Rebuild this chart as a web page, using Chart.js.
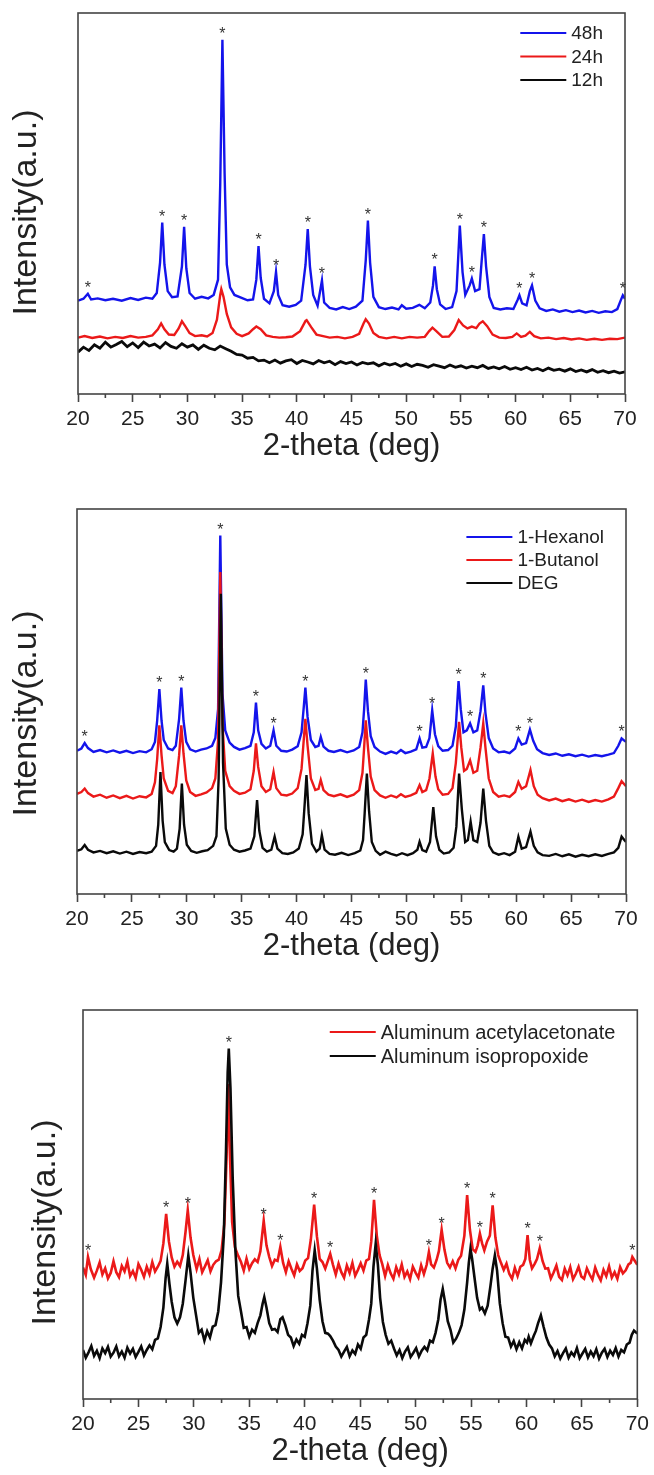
<!DOCTYPE html>
<html>
<head>
<meta charset="utf-8">
<script src="https://cdn.jsdelivr.net/npm/chart.js@4.4.1/dist/chart.umd.min.js"></script>
<style>
  html, body { margin: 0; padding: 0; background: #fff; }
  body { width: 654px; height: 1475px; position: relative; overflow: hidden; }
  canvas { position: absolute; left: 0; }
</style>
</head>
<body>
<canvas id="c1" width="654" height="475" style="top:0px"></canvas>
<canvas id="c2" width="654" height="490" style="top:475px"></canvas>
<canvas id="c3" width="654" height="510" style="top:965px"></canvas>
<script>
// 2-theta axis
const thetaTicks = [20, 25, 30, 35, 40, 45, 50, 55, 60, 65, 70];
const thetaMinor = [22.5, 27.5, 32.5, 37.5, 42.5, 47.5, 52.5, 57.5, 62.5, 67.5];

// reaction time series, [2theta, intensity]
const xrd48h = [[20.0,24.5],[20.5,25.0],[20.9,26.3],[21.2,24.8],[21.8,25.1],[22.5,24.6],[23.2,25.0],[24.0,24.5],[24.8,25.2],[25.5,24.7],[26.2,25.3],[26.8,25.0],[27.2,26.5],[27.5,34.5],[27.7,45.0],[27.9,34.0],[28.2,27.0],[28.6,25.4],[29.1,25.6],[29.5,33.5],[29.7,43.9],[29.9,33.0],[30.2,26.5],[30.7,25.0],[31.3,25.5],[31.9,25.1],[32.4,26.0],[32.8,30.0],[33.0,55.0],[33.2,93.0],[33.4,58.0],[33.6,34.0],[33.9,28.0],[34.3,26.0],[34.9,25.3],[35.5,24.6],[36.0,24.8],[36.3,30.0],[36.5,38.8],[36.7,30.5],[37.0,25.0],[37.5,23.8],[37.9,27.0],[38.1,32.0],[38.3,26.0],[38.7,23.3],[39.3,22.9],[39.9,23.4],[40.4,24.5],[40.8,34.0],[41.0,43.3],[41.2,33.5],[41.5,26.0],[41.9,23.2],[42.3,29.8],[42.5,24.0],[43.0,22.6],[43.6,22.2],[44.2,22.8],[44.8,22.3],[45.4,22.9],[46.0,24.5],[46.3,35.0],[46.5,45.5],[46.7,34.5],[47.0,25.5],[47.5,22.8],[48.1,22.3],[48.7,22.7],[49.3,22.2],[49.6,23.3],[50.0,22.4],[50.6,22.6],[51.2,23.4],[51.7,22.5],[52.2,24.0],[52.45,28.5],[52.6,33.5],[52.8,27.5],[53.1,23.5],[53.6,22.3],[54.2,22.8],[54.6,27.0],[54.9,44.2],[55.15,32.0],[55.4,26.0],[55.8,28.5],[56.0,30.3],[56.3,27.0],[56.7,27.5],[56.9,35.0],[57.1,42.0],[57.3,33.5],[57.6,25.5],[58.0,22.6],[58.6,22.2],[59.2,22.5],[59.8,22.3],[60.2,24.8],[60.35,25.9],[60.6,23.8],[61.0,23.3],[61.3,27.0],[61.5,28.5],[61.8,24.5],[62.2,22.5],[62.8,21.8],[63.4,22.2],[64.0,21.6],[64.6,22.0],[65.2,21.5],[65.8,21.9],[66.4,21.4],[67.0,21.8],[67.6,21.3],[68.2,21.7],[68.8,21.5],[69.3,22.3],[69.6,24.5],[69.8,25.9],[70.0,25.0]];
const xrd24h = [[20.0,14.8],[20.6,15.2],[21.3,14.7],[22.0,15.1],[22.7,14.6],[23.4,15.0],[24.1,14.7],[24.8,15.2],[25.5,14.8],[26.2,15.0],[26.8,15.4],[27.3,17.0],[27.6,18.5],[27.9,17.0],[28.3,15.6],[28.8,15.5],[29.2,17.2],[29.5,19.1],[29.8,17.8],[30.2,16.0],[30.7,15.2],[31.3,15.4],[31.8,15.1],[32.3,16.0],[32.7,19.5],[33.0,26.0],[33.1,27.5],[33.3,25.5],[33.6,21.0],[34.0,17.5],[34.5,15.8],[35.0,15.2],[35.6,15.9],[36.0,17.0],[36.3,17.7],[36.7,17.0],[37.2,15.4],[37.8,15.0],[38.4,14.8],[39.0,14.9],[39.6,15.1],[40.3,16.5],[40.8,19.2],[40.9,19.4],[41.3,17.6],[41.8,15.6],[42.4,15.2],[43.0,14.8],[43.7,15.0],[44.4,14.6],[45.1,15.0],[45.7,15.8],[46.1,18.5],[46.3,19.6],[46.6,18.5],[47.0,16.0],[47.5,15.0],[48.2,14.6],[48.9,15.0],[49.6,14.6],[50.3,15.0],[51.0,14.8],[51.7,15.0],[52.1,16.5],[52.4,17.4],[52.8,16.4],[53.3,15.0],[53.9,15.1],[54.4,16.8],[54.8,19.4],[55.2,18.0],[55.6,17.2],[56.0,17.7],[56.4,17.3],[56.7,18.5],[57.0,19.1],[57.4,17.8],[57.9,15.6],[58.5,14.8],[59.1,14.7],[59.7,15.0],[60.1,15.9],[60.5,15.0],[60.9,15.3],[61.3,16.3],[61.7,15.2],[62.3,14.6],[63.0,14.8],[63.7,14.4],[64.4,14.7],[65.1,14.3],[65.8,14.6],[66.5,14.2],[67.2,14.5],[67.9,14.2],[68.6,14.5],[69.3,14.4],[70.0,14.8]];
const xrd12h = [[20.0,11.0],[20.5,12.3],[21.0,11.4],[21.5,12.9],[22.0,12.0],[22.5,13.6],[23.0,12.3],[23.5,13.0],[24.0,13.8],[24.5,12.4],[25.0,13.4],[25.5,12.2],[26.0,13.6],[26.5,12.6],[27.0,13.1],[27.5,12.1],[28.0,13.5],[28.5,12.5],[29.0,12.0],[29.5,13.2],[30.0,12.3],[30.5,12.9],[31.0,11.7],[31.5,12.8],[32.0,12.0],[32.5,11.6],[33.0,12.6],[33.5,11.9],[34.0,11.2],[34.5,10.4],[35.0,10.2],[35.5,9.4],[36.0,9.6],[36.5,8.7],[37.0,8.9],[37.5,8.2],[38.0,8.9],[38.5,8.1],[39.0,8.7],[39.5,9.0],[40.0,8.0],[40.5,8.8],[41.0,8.4],[41.5,7.9],[42.0,8.8],[42.5,8.2],[43.0,8.6],[43.5,7.7],[44.0,8.5],[44.5,8.0],[45.0,8.4],[45.5,7.6],[46.0,8.3],[46.5,7.9],[47.0,8.2],[47.5,7.4],[48.0,8.1],[48.5,7.6],[49.0,8.0],[49.5,7.3],[50.0,7.9],[50.5,7.2],[51.0,7.8],[51.5,7.5],[52.0,7.0],[52.5,7.7],[53.0,7.3],[53.5,6.9],[54.0,7.6],[54.5,7.0],[55.0,7.4],[55.5,6.8],[56.0,7.3],[56.5,6.9],[57.0,7.5],[57.5,6.7],[58.0,7.1],[58.5,6.6],[59.0,7.2],[59.5,6.5],[60.0,6.9],[60.5,6.4],[61.0,7.0],[61.5,6.3],[62.0,6.7],[62.5,6.1],[63.0,6.8],[63.5,6.2],[64.0,6.5],[64.5,6.0],[65.0,6.6],[65.5,5.9],[66.0,6.3],[66.5,5.8],[67.0,6.4],[67.5,5.7],[68.0,6.1],[68.5,5.6],[69.0,6.0],[69.5,5.5],[70.0,5.8]];

// solvent series
const xrdHexanol = [[20.0,37.2],[20.4,37.8],[20.7,39.2],[21.0,37.9],[21.5,36.9],[22.1,37.4],[22.7,36.8],[23.3,37.3],[23.9,36.7],[24.5,37.2],[25.1,36.6],[25.7,37.1],[26.3,36.8],[26.8,37.6],[27.1,39.5],[27.3,45.0],[27.5,53.2],[27.7,45.0],[27.9,40.0],[28.3,37.8],[28.7,37.4],[29.0,38.5],[29.3,45.5],[29.5,53.6],[29.7,45.0],[29.95,39.5],[30.3,37.6],[30.8,37.0],[31.3,37.5],[31.8,37.8],[32.3,38.5],[32.6,40.5],[32.85,48.0],[33.05,93.1],[33.25,52.0],[33.5,42.5],[33.9,39.3],[34.3,38.2],[34.8,37.5],[35.3,37.9],[35.8,38.5],[36.1,42.0],[36.3,49.7],[36.5,42.5],[36.8,39.0],[37.2,37.8],[37.6,38.5],[37.9,42.5],[38.15,38.5],[38.6,37.2],[39.1,37.0],[39.6,37.5],[40.1,38.4],[40.45,42.0],[40.65,48.5],[40.8,53.6],[41.0,46.0],[41.3,40.0],[41.7,38.2],[42.0,38.5],[42.2,40.8],[42.45,38.3],[42.9,37.2],[43.4,36.9],[44.0,37.4],[44.6,36.8],[45.2,37.3],[45.7,38.2],[46.0,42.0],[46.15,48.0],[46.3,55.7],[46.5,47.5],[46.75,41.0],[47.1,38.2],[47.6,37.0],[48.1,36.4],[48.6,37.0],[49.1,36.5],[49.5,37.4],[49.9,36.6],[50.4,37.0],[50.9,37.6],[51.2,40.4],[51.45,38.0],[51.8,38.2],[52.1,40.5],[52.35,47.7],[52.6,41.5],[52.9,38.4],[53.3,37.2],[53.8,37.4],[54.2,38.5],[54.5,43.5],[54.75,55.3],[54.95,48.0],[55.2,42.0],[55.5,42.5],[55.8,44.3],[56.1,42.0],[56.45,42.5],[56.75,47.5],[57.0,54.2],[57.2,47.0],[57.5,40.5],[57.9,37.8],[58.4,36.8],[58.9,37.0],[59.4,36.6],[59.9,37.8],[60.2,40.4],[60.5,38.8],[60.9,39.2],[61.25,42.7],[61.55,39.8],[61.9,37.6],[62.4,36.6],[63.0,36.1],[63.6,36.5],[64.2,35.9],[64.8,36.3],[65.4,35.8],[66.0,36.2],[66.6,35.7],[67.2,36.1],[67.8,35.8],[68.4,36.2],[68.9,36.6],[69.3,38.5],[69.6,40.4],[70.0,39.5]];
const xrdButanol = [[20.0,26.0],[20.4,26.5],[20.7,27.4],[21.0,26.2],[21.5,25.3],[22.1,25.8],[22.7,25.0],[23.3,25.6],[23.9,24.9],[24.5,25.5],[25.1,24.8],[25.7,25.4],[26.3,25.1],[26.8,26.0],[27.1,29.0],[27.3,35.0],[27.5,43.8],[27.7,36.0],[27.9,30.0],[28.3,26.8],[28.7,26.2],[29.0,28.0],[29.3,36.0],[29.5,43.8],[29.7,36.5],[29.95,29.5],[30.3,26.5],[30.8,25.5],[31.3,25.9],[31.8,26.4],[32.3,27.5],[32.6,30.0],[32.85,40.0],[33.05,83.6],[33.25,44.0],[33.5,32.0],[33.9,28.0],[34.3,26.8],[34.8,26.0],[35.3,26.3],[35.8,27.2],[36.1,32.0],[36.3,39.1],[36.5,33.0],[36.8,28.0],[37.2,26.5],[37.6,27.2],[37.9,31.7],[38.15,27.5],[38.6,25.8],[39.1,25.6],[39.6,26.1],[40.1,27.5],[40.45,32.5],[40.65,40.0],[40.8,45.5],[41.0,38.5],[41.3,30.0],[41.7,27.0],[42.0,27.3],[42.2,29.6],[42.45,27.0],[42.9,25.8],[43.4,25.4],[44.0,25.9],[44.6,25.2],[45.2,25.8],[45.7,27.0],[46.0,31.5],[46.15,38.0],[46.3,45.1],[46.5,38.0],[46.75,30.5],[47.1,27.0],[47.6,25.6],[48.1,25.0],[48.6,25.6],[49.1,25.1],[49.5,25.9],[49.9,25.2],[50.4,25.6],[50.9,26.3],[51.2,28.3],[51.45,26.5],[51.8,27.0],[52.1,30.0],[52.4,36.5],[52.65,30.5],[52.9,27.2],[53.3,25.8],[53.8,26.0],[54.2,27.5],[54.5,34.0],[54.8,44.7],[55.0,38.0],[55.25,32.0],[55.5,32.5],[55.8,34.7],[56.1,31.5],[56.45,32.0],[56.75,38.0],[57.0,44.3],[57.2,38.0],[57.5,30.0],[57.9,26.5],[58.4,25.3],[58.9,25.6],[59.4,25.2],[59.9,26.5],[60.2,29.1],[60.5,27.3],[60.9,28.0],[61.3,32.2],[61.6,28.0],[61.95,25.8],[62.4,24.9],[63.0,24.3],[63.6,24.8],[64.2,24.1],[64.8,24.6],[65.4,24.0],[66.0,24.5],[66.6,23.9],[67.2,24.4],[67.8,24.0],[68.4,24.6],[68.9,25.3],[69.3,27.5],[69.6,29.3],[70.0,28.0]];
const xrdDEG = [[20.0,11.2],[20.4,11.6],[20.7,12.7],[21.0,11.5],[21.5,10.8],[22.1,11.2],[22.7,10.6],[23.3,11.1],[23.9,10.5],[24.5,11.0],[25.1,10.4],[25.7,10.9],[26.3,10.6],[26.8,11.0],[27.2,12.5],[27.4,18.0],[27.6,31.7],[27.8,19.0],[28.0,13.5],[28.4,11.4],[28.8,11.0],[29.1,11.8],[29.35,17.0],[29.55,28.7],[29.75,18.0],[30.0,12.8],[30.4,11.2],[30.9,10.7],[31.4,11.1],[31.9,11.4],[32.4,12.5],[32.7,15.0],[32.9,30.0],[33.1,78.0],[33.3,34.0],[33.55,17.0],[33.9,12.8],[34.3,11.5],[34.8,11.0],[35.3,11.3],[35.8,11.8],[36.15,15.0],[36.4,24.4],[36.6,16.5],[36.9,12.0],[37.3,11.0],[37.7,11.5],[38.0,14.9],[38.25,11.8],[38.7,10.6],[39.2,10.4],[39.7,10.8],[40.2,11.8],[40.55,15.5],[40.75,24.0],[40.9,30.9],[41.1,21.0],[41.4,13.0],[41.8,11.0],[42.1,11.8],[42.3,15.3],[42.55,11.5],[43.0,10.4],[43.5,10.2],[44.1,10.7],[44.7,10.1],[45.3,10.6],[45.8,11.3],[46.05,14.0],[46.2,21.0],[46.4,31.3],[46.6,21.5],[46.85,13.5],[47.2,11.2],[47.6,10.2],[48.1,11.0],[48.6,10.4],[49.1,10.0],[49.6,10.6],[50.1,10.1],[50.6,10.6],[51.0,11.5],[51.2,13.6],[51.45,11.4],[51.8,11.0],[52.15,13.5],[52.45,22.6],[52.7,15.0],[53.0,11.5],[53.4,10.5],[53.9,10.8],[54.3,12.0],[54.55,17.5],[54.8,31.3],[55.05,22.0],[55.35,13.5],[55.6,14.0],[55.85,18.8],[56.1,14.0],[56.45,13.5],[56.75,18.5],[57.0,27.4],[57.25,19.0],[57.55,12.5],[57.9,10.8],[58.4,10.2],[58.9,10.6],[59.4,10.1],[59.9,11.0],[60.2,14.9],[60.5,11.8],[60.9,12.2],[61.3,16.2],[61.6,12.5],[61.95,10.8],[62.4,10.1],[63.0,9.9],[63.6,10.4],[64.2,9.8],[64.8,10.3],[65.4,9.7],[66.0,10.2],[66.6,9.8],[67.2,10.3],[67.8,9.9],[68.4,10.4],[68.9,10.8],[69.3,12.0],[69.6,14.9],[70.0,13.5]];

// aluminium precursor series
const xrdAcac = [[20.0,33.8],[20.25,31.9],[20.45,36.5],[20.7,33.4],[21.0,31.2],[21.25,33.0],[21.5,35.1],[21.75,32.0],[22.0,33.6],[22.25,31.0],[22.5,32.4],[22.75,35.4],[23.0,32.6],[23.25,31.3],[23.5,34.2],[23.75,32.8],[24.0,35.3],[24.25,31.6],[24.5,32.9],[24.75,31.1],[25.0,34.7],[25.25,33.2],[25.5,31.4],[25.75,34.0],[26.0,32.1],[26.25,35.2],[26.5,32.8],[26.75,34.0],[27.0,35.5],[27.25,40.0],[27.5,47.6],[27.75,40.5],[28.0,36.4],[28.25,34.0],[28.5,35.3],[28.75,34.2],[29.0,37.0],[29.25,43.0],[29.45,48.5],[29.7,41.5],[29.95,37.0],[30.25,33.4],[30.5,36.0],[30.75,32.6],[31.0,34.1],[31.25,35.7],[31.5,32.8],[31.75,34.5],[32.0,35.4],[32.25,35.8],[32.5,38.3],[32.75,45.0],[32.95,62.0],[33.1,81.0],[33.25,63.0],[33.45,45.5],[33.7,39.0],[34.0,36.8],[34.25,35.2],[34.5,33.0],[34.75,36.1],[35.0,33.4],[35.25,34.9],[35.5,35.9],[35.75,35.2],[36.0,38.0],[36.3,45.8],[36.55,39.5],[36.8,36.5],[37.05,34.2],[37.3,35.8],[37.55,35.5],[37.8,39.1],[38.05,35.0],[38.3,32.6],[38.55,35.4],[38.8,33.5],[39.05,31.8],[39.3,34.6],[39.55,32.9],[39.8,33.6],[40.05,35.6],[40.3,36.2],[40.55,41.0],[40.85,50.0],[41.1,41.8],[41.35,36.0],[41.6,35.2],[41.85,33.5],[42.05,35.2],[42.3,37.3],[42.55,34.5],[42.8,32.0],[43.05,34.8],[43.3,32.6],[43.55,31.2],[43.8,34.3],[44.05,32.4],[44.3,35.0],[44.55,31.7],[44.8,33.2],[45.05,34.9],[45.3,33.0],[45.55,35.6],[45.8,36.0],[46.0,40.5],[46.25,51.2],[46.5,42.0],[46.75,37.0],[47.0,34.6],[47.25,31.6],[47.5,34.4],[47.75,32.3],[48.0,30.9],[48.25,33.9],[48.5,32.0],[48.75,34.6],[49.0,31.4],[49.25,32.8],[49.5,30.8],[49.75,34.0],[50.0,32.5],[50.25,31.2],[50.5,34.4],[50.75,32.1],[51.0,34.5],[51.2,37.8],[51.4,34.6],[51.65,33.8],[51.9,35.8],[52.1,38.0],[52.35,43.5],[52.6,38.4],[52.85,35.0],[53.1,33.8],[53.35,35.4],[53.6,33.6],[53.85,35.8],[54.1,36.8],[54.4,42.0],[54.65,52.4],[54.9,43.5],[55.15,38.5],[55.4,37.8],[55.6,39.5],[55.8,42.5],[56.0,40.0],[56.2,38.2],[56.45,40.5],[56.7,42.0],[56.95,49.8],[57.2,41.5],[57.45,37.0],[57.7,35.0],[57.95,33.2],[58.2,34.8],[58.45,32.2],[58.7,30.9],[58.95,33.7],[59.2,31.6],[59.45,34.0],[59.7,34.5],[59.9,36.0],[60.1,42.1],[60.3,35.8],[60.5,33.6],[60.75,34.8],[60.95,36.0],[61.2,38.8],[61.45,35.5],[61.7,33.5],[61.95,33.6],[62.2,31.0],[62.45,32.5],[62.7,34.3],[62.95,31.4],[63.2,30.6],[63.45,33.5],[63.7,31.8],[63.95,33.9],[64.2,30.8],[64.45,32.2],[64.7,34.0],[64.95,31.5],[65.2,30.9],[65.45,33.6],[65.7,32.0],[65.95,30.7],[66.2,33.8],[66.45,31.9],[66.7,30.5],[66.95,33.2],[67.2,31.6],[67.45,34.1],[67.7,31.2],[67.95,32.6],[68.2,30.9],[68.45,33.9],[68.7,32.3],[68.95,33.1],[69.2,34.6],[69.4,35.0],[69.55,36.5],[69.75,35.6],[70.0,34.5]];
const xrdIsoprop = [[20.0,12.6],[20.25,10.6],[20.5,12.0],[20.75,13.6],[21.0,11.1],[21.25,12.4],[21.5,10.5],[21.75,13.0],[22.0,11.8],[22.25,13.4],[22.5,10.9],[22.75,11.9],[23.0,13.5],[23.25,11.0],[23.5,12.2],[23.75,10.6],[24.0,13.2],[24.25,11.7],[24.5,12.9],[24.75,10.8],[25.0,12.1],[25.25,13.5],[25.5,11.2],[25.75,12.6],[26.0,13.8],[26.25,12.8],[26.5,15.2],[26.75,15.6],[27.0,18.5],[27.25,23.5],[27.45,31.0],[27.6,34.8],[27.8,29.5],[28.0,25.0],[28.25,21.0],[28.5,19.4],[28.75,21.0],[29.0,24.5],[29.25,30.5],[29.5,36.9],[29.7,32.5],[29.95,26.0],[30.2,21.5],[30.45,17.0],[30.7,17.8],[30.95,15.0],[31.2,17.4],[31.45,15.8],[31.7,18.6],[31.95,19.0],[32.2,22.5],[32.45,30.0],[32.7,42.0],[32.9,64.0],[33.05,84.0],[33.15,90.1],[33.3,80.0],[33.5,57.0],[33.75,38.0],[34.0,26.5],[34.25,22.5],[34.5,18.3],[34.75,18.5],[35.0,16.0],[35.25,17.8],[35.5,17.0],[35.75,19.5],[36.0,21.5],[36.2,24.5],[36.35,26.2],[36.55,23.5],[36.8,19.5],[37.05,17.8],[37.3,18.0],[37.55,17.2],[37.8,20.5],[38.0,21.0],[38.25,19.0],[38.5,16.5],[38.75,15.8],[39.0,13.6],[39.25,15.3],[39.5,14.2],[39.75,16.5],[40.0,16.0],[40.25,19.5],[40.5,24.0],[40.7,33.0],[40.9,38.2],[41.1,33.5],[41.35,25.5],[41.6,20.0],[41.85,17.0],[42.1,16.8],[42.3,16.2],[42.55,15.0],[42.8,13.5],[43.05,12.6],[43.3,10.9],[43.55,12.2],[43.8,13.4],[44.05,11.0],[44.3,12.5],[44.55,11.6],[44.8,14.0],[45.05,12.9],[45.3,15.8],[45.55,16.5],[45.8,20.5],[46.0,24.5],[46.2,34.0],[46.4,39.9],[46.6,34.5],[46.8,26.0],[47.05,19.8],[47.3,16.5],[47.55,14.2],[47.8,15.0],[48.05,13.0],[48.3,11.2],[48.55,12.6],[48.8,10.5],[49.05,12.2],[49.3,13.3],[49.55,10.8],[49.8,11.9],[50.05,13.1],[50.3,10.9],[50.55,12.4],[50.8,13.4],[51.05,12.5],[51.3,15.0],[51.55,14.6],[51.8,17.0],[52.05,20.5],[52.25,25.5],[52.45,28.3],[52.65,25.0],[52.9,20.0],[53.15,17.8],[53.4,14.5],[53.65,15.5],[53.9,17.0],[54.15,19.0],[54.4,23.0],[54.65,30.0],[54.8,35.0],[54.95,38.6],[55.1,36.0],[55.3,31.5],[55.55,26.0],[55.8,23.0],[56.0,23.5],[56.25,22.0],[56.5,24.0],[56.75,29.0],[56.95,33.5],[57.15,36.9],[57.35,33.0],[57.6,24.5],[57.85,19.5],[58.1,16.0],[58.35,15.8],[58.6,13.5],[58.85,14.9],[59.1,12.8],[59.35,14.6],[59.6,13.0],[59.85,15.2],[60.05,14.5],[60.2,16.0],[60.4,14.3],[60.65,16.2],[60.85,17.5],[61.05,19.5],[61.3,21.5],[61.55,18.5],[61.8,15.8],[62.05,14.0],[62.3,13.0],[62.55,11.0],[62.8,12.3],[63.05,10.4],[63.3,11.8],[63.55,13.0],[63.8,10.6],[64.05,12.0],[64.3,11.1],[64.55,13.1],[64.8,10.5],[65.05,11.7],[65.3,12.9],[65.55,10.7],[65.8,12.2],[66.05,11.0],[66.3,12.8],[66.55,10.4],[66.8,11.9],[67.05,12.9],[67.3,10.8],[67.55,12.4],[67.8,11.3],[68.05,13.1],[68.3,10.9],[68.55,12.6],[68.8,12.0],[69.05,14.0],[69.3,14.5],[69.5,16.5],[69.7,17.6],[70.0,16.8]];

// marked reflections (2theta) for each panel
const peaksTime = [20.9, 27.7, 29.7, 33.2, 36.5, 38.1, 41.0, 42.3, 46.5, 52.6, 54.9, 56.0, 57.1, 60.35, 61.5, 69.8];
const peaksSolvent = [20.7, 27.5, 29.5, 33.05, 36.3, 37.9, 40.8, 46.3, 51.2, 52.35, 54.75, 55.8, 57.0, 60.2, 61.25, 69.6];
const peaksPrecursor = [20.45, 27.5, 29.45, 33.15, 36.3, 37.8, 40.85, 42.3, 46.25, 51.2, 52.35, 54.65, 55.8, 56.95, 60.1, 61.2, 69.55];

const FONT = '"Liberation Sans", Arial, Helvetica, sans-serif';
const BLUE = 'rgb(20,20,235)';
const RED = 'rgb(235,25,25)';
const BLACK = 'rgb(10,10,10)';
const INK = '#222';

// frame, minor ticks, peak marks, legend and y title
const xrdFrame = {
  id: 'xrdFrame',
  afterDatasetsDraw(chart, args, opts) {
    const { ctx, chartArea: a, scales: { x, y } } = chart;
    ctx.save();

    ctx.strokeStyle = '#444';
    ctx.lineWidth = 1.6;
    ctx.strokeRect(a.left, a.top, a.right - a.left, a.bottom - a.top);
    ctx.beginPath();
    thetaMinor.forEach(v => {
      const px = x.getPixelForValue(v);
      ctx.moveTo(px, a.bottom);
      ctx.lineTo(px, a.bottom + 4);
    });
    ctx.stroke();

    ctx.fillStyle = '#333';
    ctx.font = '16px ' + FONT;
    ctx.textAlign = 'center';
    ctx.textBaseline = 'alphabetic';
    opts.stars.forEach(sx => {
      let top = -Infinity;
      chart.data.datasets.forEach(ds => ds.data.forEach(p => {
        if (Math.abs(p[0] - sx) < 0.12 && p[1] > top) top = p[1];
      }));
      ctx.fillText('*', x.getPixelForValue(sx), y.getPixelForValue(top) - 1);
    });

    const lg = opts.legend;
    ctx.font = lg.size + 'px ' + FONT;
    const sets = chart.data.datasets;
    const tw = Math.max(...sets.map(d => ctx.measureText(d.label).width));
    const tx = a.right - 22 - tw;
    sets.forEach((d, i) => {
      const ly = a.top + lg.top + i * lg.step;
      ctx.strokeStyle = d.borderColor;
      ctx.lineWidth = 2;
      ctx.beginPath();
      ctx.moveTo(tx - 51, ly);
      ctx.lineTo(tx - 5, ly);
      ctx.stroke();
      ctx.fillStyle = INK;
      ctx.textAlign = 'left';
      ctx.textBaseline = 'middle';
      ctx.fillText(d.label, tx, ly + 1);
    });

    ctx.translate(opts.yTitle.x, (a.top + a.bottom) / 2 + opts.yTitle.dy);
    ctx.rotate(-Math.PI / 2);
    ctx.font = '34px ' + FONT;
    ctx.fillStyle = INK;
    ctx.textAlign = 'center';
    ctx.textBaseline = 'middle';
    ctx.fillText('Intensity(a.u.)', 0, 0);
    ctx.restore();
  }
};

function xrdChart(id, series, stars, box) {
  const n = series.length;
  return new Chart(document.getElementById(id), {
    type: 'line',
    data: {
      datasets: series.map((s, i) => ({
        label: s.label,
        data: s.data,
        borderColor: s.color,
        borderWidth: s.width || box.lw,
        pointRadius: 0,
        tension: 0,
        fill: false,
        order: n - 1 - i
      }))
    },
    options: {
      responsive: false,
      animation: false,
      devicePixelRatio: 1,
      layout: { padding: { left: box.left, right: box.right, top: box.top, bottom: 0 } },
      plugins: {
        legend: { display: false },
        tooltip: { enabled: false },
        xrdFrame: { stars: stars, legend: box.legend, yTitle: box.yTitle }
      },
      scales: {
        x: {
          type: 'linear',
          min: 20,
          max: 70,
          afterBuildTicks: s => { s.ticks = thetaTicks.map(v => ({ value: v })); },
          afterFit: s => { s.height = box.axisH; },
          ticks: { autoSkip: false, maxRotation: 0, padding: 5, color: INK, font: { family: FONT, size: 21 } },
          grid: { display: true, drawOnChartArea: false, drawTicks: true, tickLength: 8, tickColor: '#444', tickWidth: 1.6 },
          border: { display: false },
          title: {
            display: true,
            text: '2-theta (deg)',
            color: INK,
            font: { family: FONT, size: 31 },
            padding: { top: 0, bottom: box.axisH - 52 - 18.6 }
          }
        },
        y: { display: false, min: 0, max: 100 }
      }
    },
    plugins: [xrdFrame]
  });
}

xrdChart('c1', [
  { label: '48h', data: xrd48h, color: BLUE },
  { label: '24h', data: xrd24h, color: RED },
  { label: '12h', data: xrd12h, color: BLACK, width: 2.8 }
], peaksTime, {
  left: 78, right: 29, top: 13, axisH: 81, lw: 2.4,
  legend: { top: 20, step: 23.5, size: 19 },
  yTitle: { x: 27, dy: 9 }
});

xrdChart('c2', [
  { label: '1-Hexanol', data: xrdHexanol, color: BLUE },
  { label: '1-Butanol', data: xrdButanol, color: RED },
  { label: 'DEG', data: xrdDEG, color: BLACK }
], peaksSolvent, {
  left: 77, right: 28, top: 34, axisH: 71, lw: 2.4,
  legend: { top: 28, step: 23, size: 19 },
  yTitle: { x: 27, dy: 12 }
});

xrdChart('c3', [
  { label: 'Aluminum acetylacetonate', data: xrdAcac, color: RED },
  { label: 'Aluminum isopropoxide', data: xrdIsoprop, color: BLACK }
], peaksPrecursor, {
  left: 83, right: 14, top: 45, axisH: 76, lw: 2.6,
  legend: { top: 22, step: 24, size: 20 },
  yTitle: { x: 46, dy: 18 }
});
</script>
</body>
</html>
